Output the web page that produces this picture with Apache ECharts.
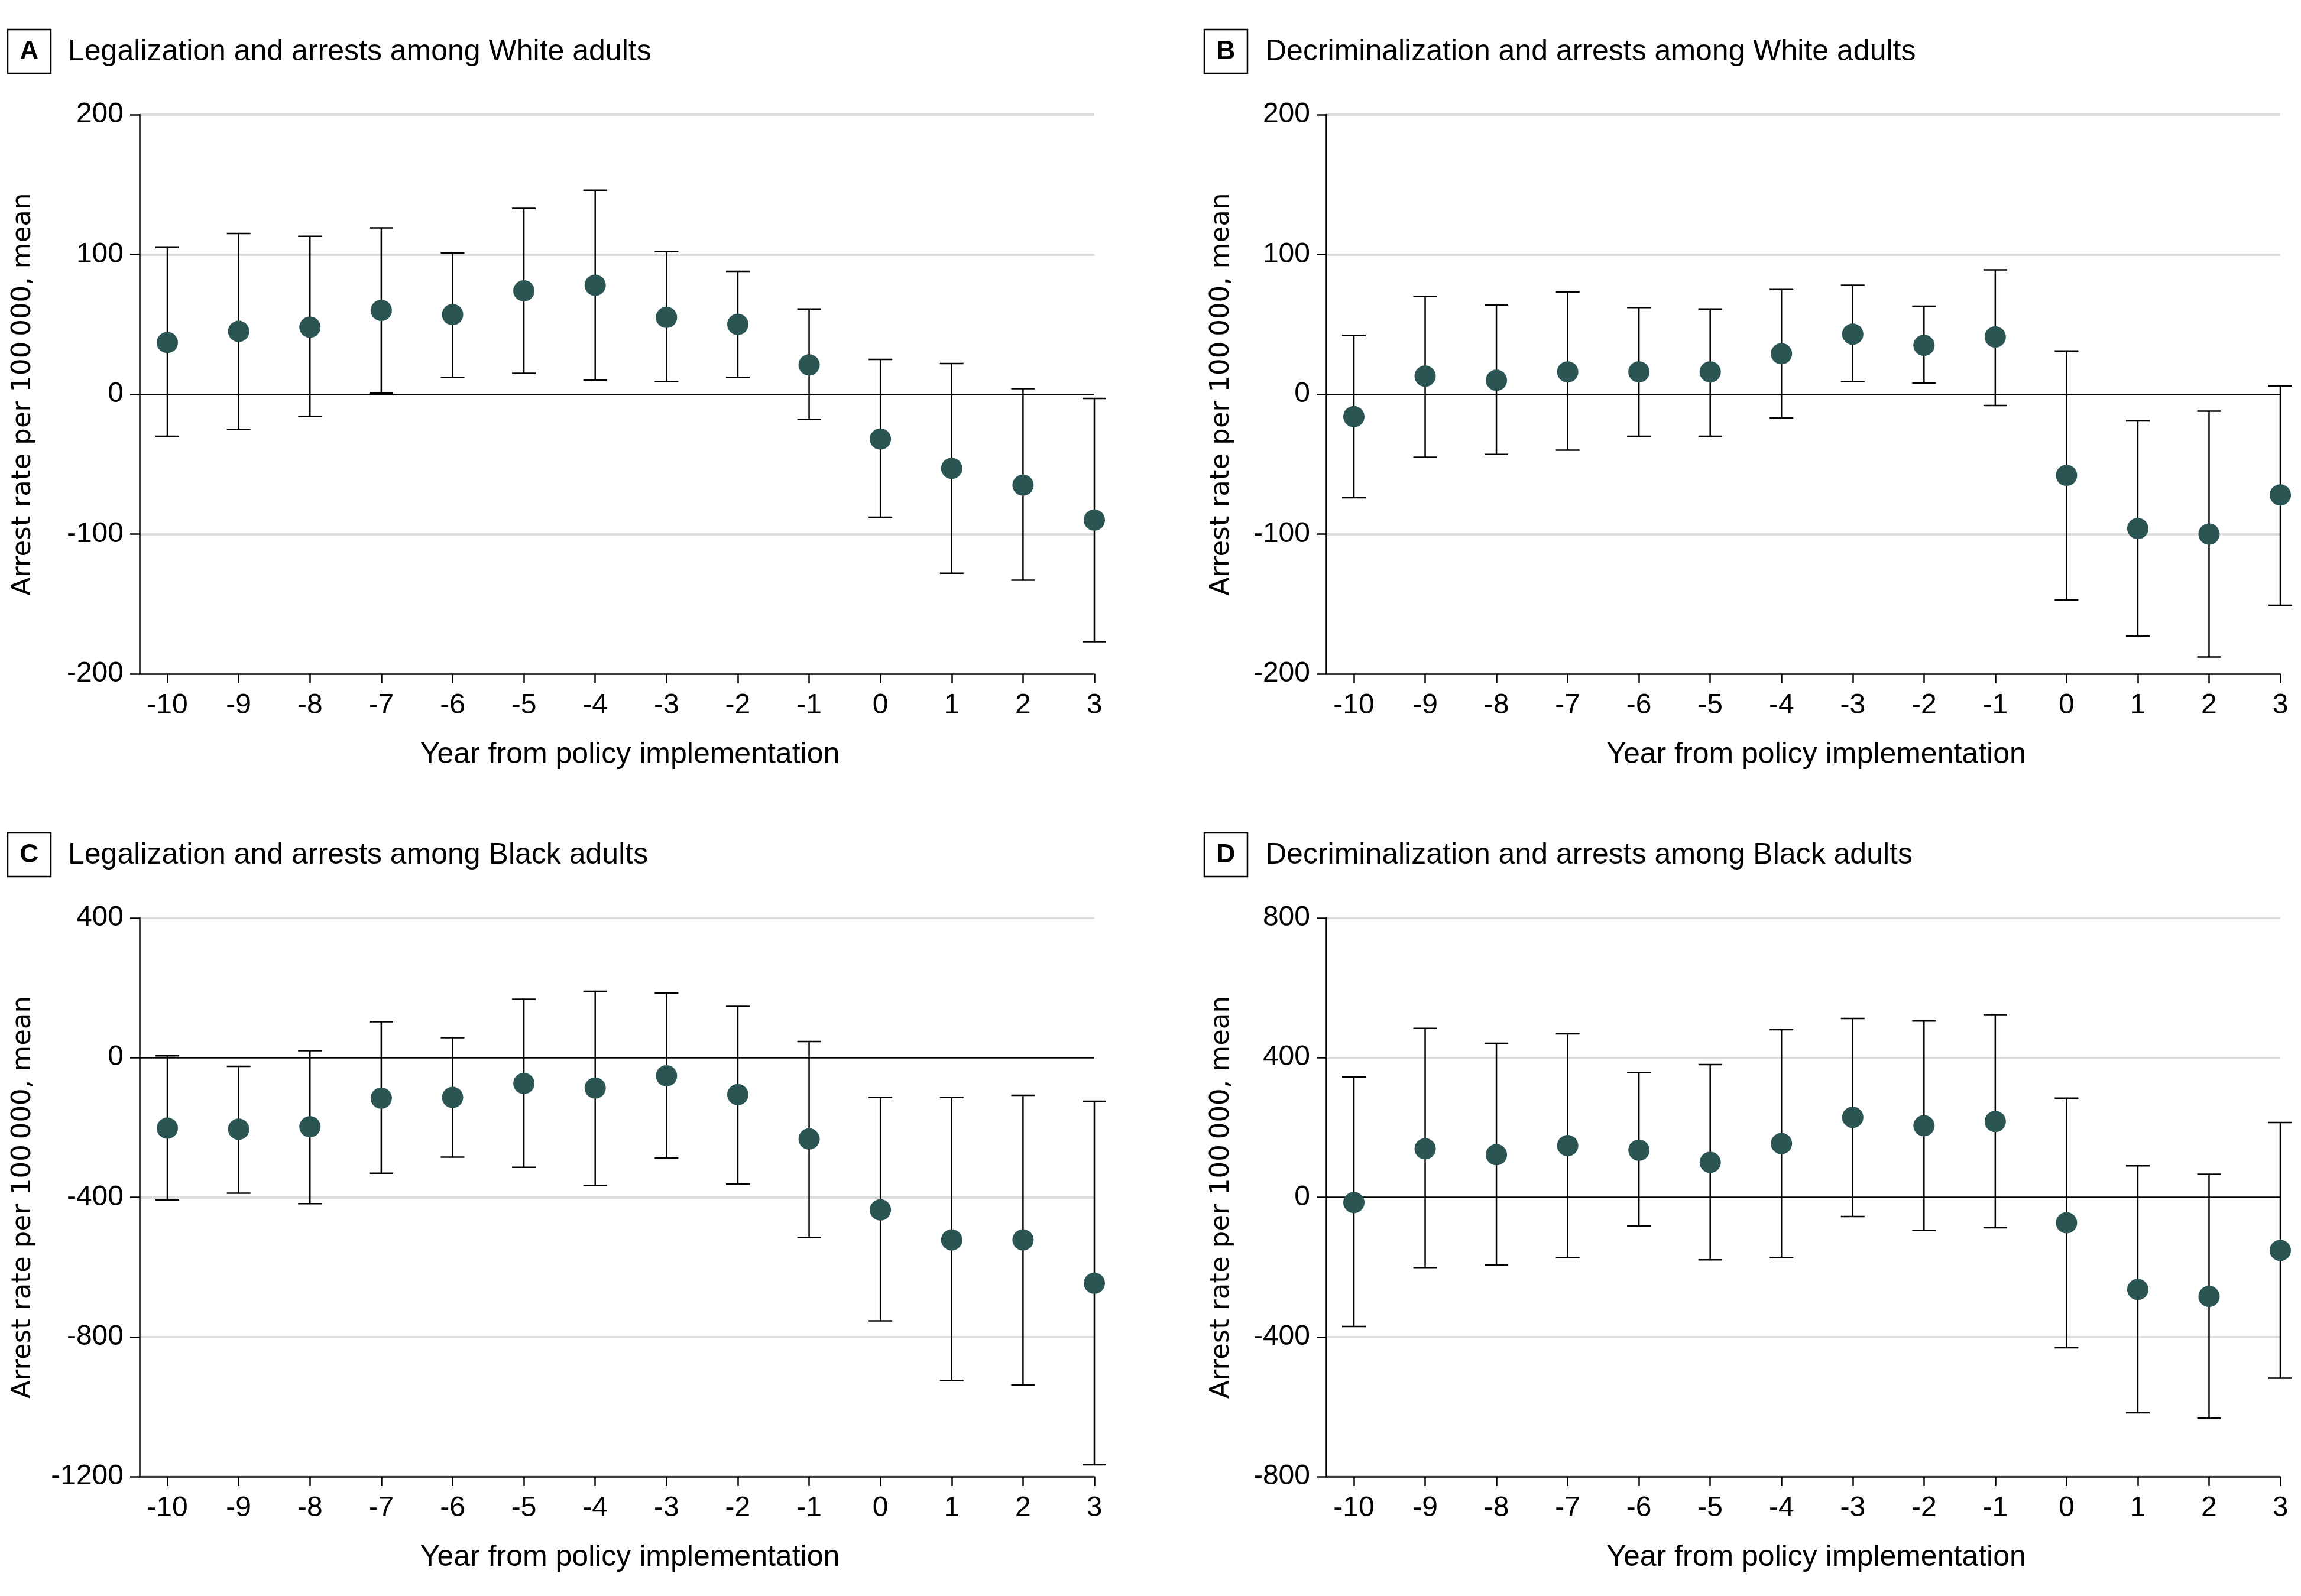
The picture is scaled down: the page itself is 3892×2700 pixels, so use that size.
<!DOCTYPE html>
<html>
<head>
<meta charset="utf-8">
<script src="https://cdn.jsdelivr.net/npm/echarts@6/dist/echarts.min.js"></script>
<style>
html,body{margin:0;padding:0;background:#fff;}
#chart{width:3892px;height:2700px;}
</style>
</head>
<body>
<div id="chart"></div>
<script>
// ---- Data ----
const years = [-10, -9, -8, -7, -6, -5, -4, -3, -2, -1, 0, 1, 2, 3];

const panelTitles = [
  'Legalization and arrests among White adults',
  'Decriminalization and arrests among White adults',
  'Legalization and arrests among Black adults',
  'Decriminalization and arrests among Black adults'
];
const panelLetters = ['A', 'B', 'C', 'D'];

const aMean = [37, 45, 48, 60, 57, 74, 78, 55, 50, 21, -32, -53, -65, -90];
const aLow  = [-30, -25, -16, 1, 12, 15, 10, 9, 12, -18, -88, -128, -133, -177];
const aHigh = [105, 115, 113, 119, 101, 133, 146, 102, 88, 61, 25, 22, 4, -3];

const bMean = [-16, 13, 10, 16, 16, 16, 29, 43, 35, 41, -58, -96, -100, -72];
const bLow  = [-74, -45, -43, -40, -30, -30, -17, 9, 8, -8, -147, -173, -188, -151];
const bHigh = [42, 70, 64, 73, 62, 61, 75, 78, 63, 89, 31, -19, -12, 6];

const cMean = [-202, -205, -198, -116, -114, -74, -87, -52, -106, -233, -436, -522, -522, -646];
const cLow  = [-407, -388, -418, -331, -285, -314, -366, -288, -362, -515, -754, -925, -937, -1166];
const cHigh = [5, -25, 20, 103, 57, 167, 190, 185, 147, 46, -114, -114, -108, -125];

const dMean = [-15, 139, 122, 148, 135, 100, 154, 229, 205, 217, -73, -264, -284, -152];
const dLow  = [-370, -201, -194, -173, -82, -179, -173, -55, -95, -87, -431, -617, -633, -518];
const dHigh = [345, 484, 441, 468, 357, 380, 480, 512, 505, 523, 284, 90, 66, 214];

// y-axis ranges per panel: [min, max, interval]
const yRanges = [[-200, 200, 100], [-200, 200, 100], [-1200, 400, 400], [-800, 800, 400]];

const xAxisName = 'Year from policy implementation';
const yAxisName = 'Arrest rate per 100\u2009000, mean';

// ---- Layout ----
const means = [aMean, bMean, cMean, dMean];
const lows = [aLow, bLow, cLow, dLow];
const highs = [aHigh, bHigh, cHigh, dHigh];

const grids = [
  {left: 236, top: 194, width: 1615, height: 946},
  {left: 2243, top: 194, width: 1614, height: 946},
  {left: 236, top: 1553, width: 1615, height: 945},
  {left: 2243, top: 1553, width: 1614, height: 945}
];
const yNameGaps = [174, 154, 174, 154];
const titlePos = [
  {bx: 13, by: 50, tx: 115},
  {bx: 2037, by: 50, tx: 2140},
  {bx: 13, by: 1409, tx: 115},
  {bx: 2037, by: 1409, tx: 2140}
];

const FONT = '"Liberation Sans", Arial, sans-serif';
const DOT = '#2a5553';
const LW = 2.5;

const xAxes = [], yAxes = [], series = [], graphic = [];

for (let i = 0; i < 4; i++) {
  const [ymin, ymax, yint] = yRanges[i];
  const splitColors = [];
  for (let v = ymin; v <= ymax; v += yint) splitColors.push(v === 0 ? 'rgba(0,0,0,0)' : '#dcdcdc');

  xAxes.push({
    gridIndex: i, type: 'value', min: -10.39, max: 3,
    axisLine: {show: true, onZero: false, lineStyle: {color: '#000', width: LW}},
    axisTick: {show: true, customValues: years, length: 16, lineStyle: {color: '#000', width: LW}},
    axisLabel: {customValues: years, fontSize: 48, color: '#000', fontFamily: FONT, margin: 30,
      formatter: v => String(v)},
    splitLine: {show: false},
    name: xAxisName, nameLocation: 'middle', nameGap: 112,
    nameTextStyle: {fontSize: 50, color: '#000', fontFamily: FONT, padding: [0, 0, 0, 44]}
  });
  yAxes.push({
    gridIndex: i, type: 'value', min: ymin, max: ymax, interval: yint,
    axisLine: {show: true, onZero: false, lineStyle: {color: '#000', width: LW}},
    axisTick: {show: true, length: 16, lineStyle: {color: '#000', width: LW}},
    axisLabel: {fontSize: 48, color: '#000', fontFamily: FONT, margin: 27, formatter: v => String(v)},
    splitLine: {show: true, lineStyle: {color: splitColors, width: 4}},
    name: yAxisName, nameLocation: 'middle', nameGap: yNameGaps[i],
    nameTextStyle: {fontSize: 45, color: '#000', fontFamily: '"DejaVu Sans", sans-serif'}
  });

  const ebData = years.map((y, k) => [y, lows[i][k], highs[i][k]]);
  series.push({
    type: 'custom', xAxisIndex: i, yAxisIndex: i, z: 3, silent: true,
    data: ebData,
    encode: {x: 0, y: [1, 2]},
    renderItem: function (params, api) {
      const x = api.value(0), lo = api.value(1), hi = api.value(2);
      const pH = api.coord([x, hi]);
      const pL = api.coord([x, lo]);
      const hw = 20;
      const st = {stroke: '#000', lineWidth: LW, fill: null};
      return {type: 'group', children: [
        {type: 'line', shape: {x1: pH[0], y1: pH[1], x2: pL[0], y2: pL[1]}, style: st},
        {type: 'line', shape: {x1: pH[0] - hw, y1: pH[1], x2: pH[0] + hw, y2: pH[1]}, style: st},
        {type: 'line', shape: {x1: pL[0] - hw, y1: pL[1], x2: pL[0] + hw, y2: pL[1]}, style: st}
      ]};
    }
  });
  series.push({
    type: 'scatter', xAxisIndex: i, yAxisIndex: i, z: 5, silent: true,
    symbol: 'circle', symbolSize: 36,
    itemStyle: {color: DOT, opacity: 1},
    data: years.map((y, k) => [y, means[i][k]]),
    markLine: {
      silent: true, symbol: 'none', animation: false,
      label: {show: false},
      lineStyle: {color: '#000', width: LW, type: 'solid'},
      data: [{yAxis: 0}]
    }
  });

  const tp = titlePos[i];
  graphic.push({
    type: 'rect', shape: {x: tp.bx, y: tp.by, width: 73, height: 74},
    style: {fill: '#fff', stroke: '#000', lineWidth: 2.5}
  });
  graphic.push({
    type: 'text', x: tp.bx + 36.5, y: tp.by + 38,
    style: {text: panelLetters[i], fontSize: 44, fontWeight: 'bold', fontFamily: FONT,
      fill: '#000', align: 'center', verticalAlign: 'middle'}
  });
  graphic.push({
    type: 'text', x: tp.tx, y: tp.by + 38,
    style: {text: panelTitles[i], fontSize: 50, fontFamily: FONT,
      fill: '#000', align: 'left', verticalAlign: 'middle'}
  });
}

const chart = echarts.init(document.getElementById('chart'), null, {renderer: 'canvas'});
chart.setOption({
  backgroundColor: '#fff',
  animation: false,
  grid: grids,
  xAxis: xAxes,
  yAxis: yAxes,
  series: series,
  graphic: graphic
});
</script>
</body>
</html>
